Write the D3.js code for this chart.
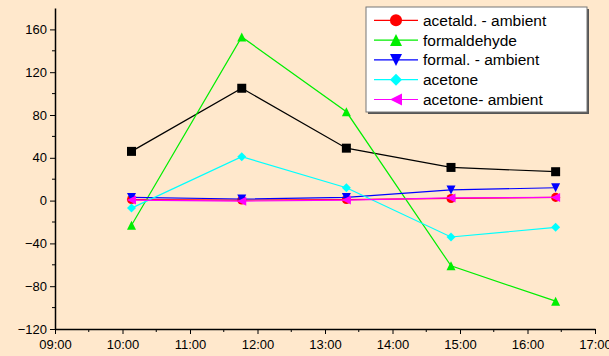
<!DOCTYPE html>
<html>
<head>
<meta charset="utf-8">
<script src="https://cdn.jsdelivr.net/npm/d3@7"></script>
<style>
  body { margin: 0; background: #ffe8cc; }
  svg { display: block; font-family: "Liberation Sans", Arial, sans-serif; }
</style>
</head>
<body>
<div id="chart"></div>
<script>
// sampling times (hh:mm)
var times = ["10:08", "11:46", "13:19", "14:52", "16:25"];

var seriesNames = ["acetaldehyde", "acetald. - ambient", "formaldehyde", "formal. - ambient", "acetone", "acetone- ambient"];
var seriesColors = ["#000000", "#ff0000", "#00ee00", "#0000ff", "#00ffff", "#ff00ff"];
var seriesSymbols = ["square", "circle", "triangleUp", "triangleDown", "diamond", "triangleLeft"];

var acetaldehyde   = [46, 105, 49, 31, 27];
var acetaldAmbient = [1, 0.5, 1, 2, 3];
var formaldehyde   = [-23, 153, 83, -61, -94];
var formalAmbient  = [3, 1.5, 3, 10, 12];
var acetone        = [-7, 41, 12, -34, -25];
var acetoneAmbient = [0.5, -0.5, 0.5, 2.5, 3];

var xTicks = ["09:00", "10:00", "11:00", "12:00", "13:00", "14:00", "15:00", "16:00", "17:00"];
var yTicks = [-120, -80, -40, 0, 40, 80, 120, 160];

var allValues = [acetaldehyde, acetaldAmbient, formaldehyde, formalAmbient, acetone, acetoneAmbient];

var W = 609, H = 356;
var margin = {left: 55, right: 14, top: 8, bottom: 27};

var parse = d3.timeParse("%H:%M");

var svg = d3.select("#chart").append("svg").attr("width", W).attr("height", H);
svg.append("rect").attr("width", W).attr("height", H).attr("fill", "#ffe8cc");

var x = d3.scaleTime()
  .domain([parse("09:00"), parse("17:00")])
  .range([margin.left, W - margin.right]);
var y = d3.scaleLinear()
  .domain([-120, 180])
  .range([H - margin.bottom, margin.top]);

// 軸
var xAxis = d3.axisBottom(x)
  .tickValues(xTicks.map(parse))
  .tickFormat(d3.timeFormat("%H:%M"))
  .tickSize(5).tickSizeOuter(0);
var gx = svg.append("g").attr("transform", "translate(0," + (H - margin.bottom) + ")").call(xAxis);
gx.selectAll("text").attr("font-size", 13).attr("fill", "#000").attr("dy", "0.9em");

// half-hour minor ticks
var minorX = d3.timeMinute.every(30).range(parse("09:00"), parse("17:00"));
gx.selectAll(".minor").data(minorX.filter(function(d){ return d.getMinutes() == 30; })).enter().append("line")
  .attr("x1", function(d){ return x(d); }).attr("x2", function(d){ return x(d); })
  .attr("y1", 0).attr("y2", 3).attr("stroke", "#000");

var yAxis = d3.axisLeft(y).tickValues(yTicks).tickSize(5).tickSizeOuter(0);
var gy = svg.append("g").attr("transform", "translate(" + margin.left + ",0)").call(yAxis);
gy.selectAll("text").attr("font-size", 13).attr("fill", "#000");
gy.selectAll(".minor").data(d3.range(-100, 180, 40)).enter().append("line")
  .attr("y1", function(d){ return y(d); }).attr("y2", function(d){ return y(d); })
  .attr("x1", 0).attr("x2", -3).attr("stroke", "#000");

svg.selectAll(".domain").attr("stroke", "#000").attr("stroke-width", 1.5);

// 記号
function symbolPath(name, size) {
  var s = size / 2;
  if (name == "square") return "M" + (-s) + "," + (-s) + "h" + size + "v" + size + "h" + (-size) + "Z";
  if (name == "circle") return d3.symbol().type(d3.symbolCircle).size(size * size * 0.8)();
  if (name == "triangleUp") return "M0," + (-s) + "L" + s + "," + s + "L" + (-s) + "," + s + "Z";
  if (name == "triangleDown") return "M0," + s + "L" + s + "," + (-s) + "L" + (-s) + "," + (-s) + "Z";
  if (name == "diamond") return "M0," + (-s) + "L" + s + ",0L0," + s + "L" + (-s) + ",0Z";
  if (name == "triangleLeft") return "M" + (-s) + ",0L" + s + "," + (-s) + "L" + s + "," + s + "Z";
}

var line = d3.line()
  .x(function(d, i){ return x(parse(times[i])); })
  .y(function(d){ return y(d); });

allValues.forEach(function(vals, k) {
  svg.append("path").datum(vals)
    .attr("d", line)
    .attr("fill", "none")
    .attr("stroke", seriesColors[k])
    .attr("stroke-width", 1.2);
  svg.selectAll(".m" + k).data(vals).enter().append("path")
    .attr("class", "m" + k)
    .attr("transform", function(d, i){ return "translate(" + x(parse(times[i])) + "," + y(d) + ")"; })
    .attr("d", symbolPath(seriesSymbols[k], 9))
    .attr("fill", seriesColors[k]);
});

// 凡例
var lg = svg.append("g");
var lx = 366, ly = 7, lw = 221, lh = 105;
lg.append("rect").attr("x", lx + 2).attr("y", ly + 2).attr("width", lw).attr("height", lh).attr("fill", "#555");
lg.append("rect").attr("x", lx).attr("y", ly).attr("width", lw).attr("height", lh)
  .attr("fill", "#fff").attr("stroke", "#777").attr("stroke-width", 1);

var rowY = d3.scaleLinear().domain([0, 5]).range([0.5, 99.5]);
seriesNames.forEach(function(name, k) {
  var yy = rowY(k);
  if (yy < ly + 4) return; // 一行目は枠の外
  lg.append("line").attr("x1", lx + 8).attr("x2", lx + 52).attr("y1", yy).attr("y2", yy)
    .attr("stroke", seriesColors[k]).attr("stroke-width", 1.2);
  lg.append("path").attr("transform", "translate(" + (lx + 30) + "," + yy + ")")
    .attr("d", symbolPath(seriesSymbols[k], 12)).attr("fill", seriesColors[k]);
  lg.append("text").attr("x", lx + 57).attr("y", yy).attr("dy", "0.35em")
    .attr("font-size", 15.5).attr("fill", "#000").text(name);
});
</script>
</body>
</html>
